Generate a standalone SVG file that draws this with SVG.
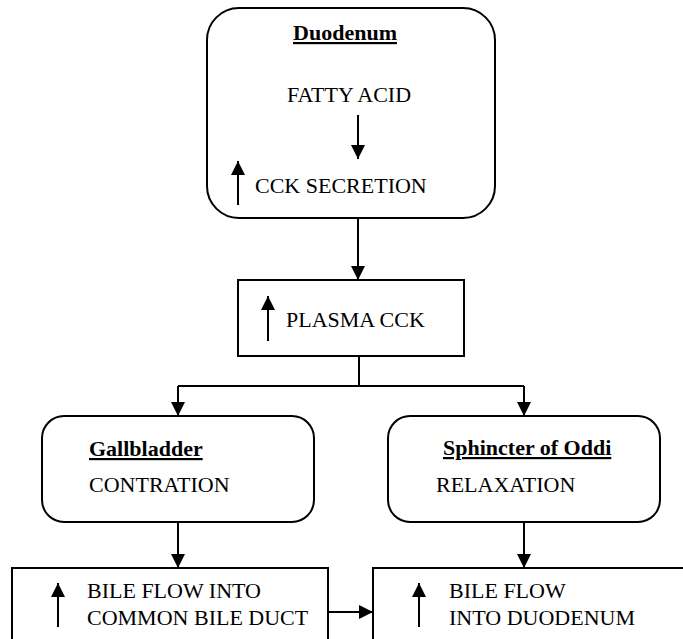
<svg xmlns="http://www.w3.org/2000/svg" width="683" height="639" viewBox="0 0 683 639">
<defs>
<marker id="ah" markerWidth="14" markerHeight="15" refX="14" refY="7" orient="auto" markerUnits="userSpaceOnUse" viewBox="0 0 14 14">
<path d="M0,0 L14,7 L0,14 Z" fill="#000"/>
</marker>
</defs>
<style>
.box{fill:#fff;stroke:#000;stroke-width:2}
.b{font-weight:bold;text-decoration:underline}
.ln{fill:none;stroke:#000;stroke-width:2}
.ar{fill:none;stroke:#000;stroke-width:2;marker-end:url(#ah)}
</style>
<rect width="683" height="639" fill="#fff"/>
<g id="connectors">
<line class="ar" x1="358" y1="218" x2="358" y2="280"/>
<polyline class="ln" points="359,356 359,386 178,386"/>
<line class="ln" x1="359" y1="386" x2="524" y2="386"/>
<line class="ar" x1="178" y1="386" x2="178" y2="416"/>
<line class="ar" x1="524" y1="386" x2="524" y2="416"/>
<line class="ar" x1="178" y1="522" x2="178" y2="568"/>
<line class="ar" x1="524" y1="522" x2="524" y2="568"/>
<line class="ar" x1="328" y1="612" x2="373" y2="612"/>
</g>
<g font-family="Liberation Serif, Times New Roman, DejaVu Serif, serif" font-size="22" fill="#000">
<g id="duodenum">
<rect class="box" x="207" y="8" width="288" height="210" rx="32"/>
<text class="b" x="345" y="40" text-anchor="middle">Duodenum</text>
<text x="349" y="102" text-anchor="middle">FATTY ACID</text>
<line class="ar" x1="358" y1="115" x2="358" y2="159"/>
<line class="ar" x1="238" y1="205" x2="238" y2="161"/>
<text x="255" y="193">CCK SECRETION</text>
</g>
<g id="plasma">
<rect class="box" x="238" y="280" width="226" height="76"/>
<line class="ar" x1="268" y1="341" x2="268" y2="296"/>
<text x="286" y="327">PLASMA CCK</text>
</g>
<g id="gallbladder">
<rect class="box" x="42" y="416" width="272" height="106" rx="22"/>
<text class="b" x="89" y="456">Gallbladder</text>
<text x="89" y="492">CONTRATION</text>
</g>
<g id="sphincter">
<rect class="box" x="388" y="416" width="272" height="106" rx="22"/>
<text class="b" x="443" y="455">Sphincter of Oddi</text>
<text x="436" y="492">RELAXATION</text>
</g>
<g id="bile-common">
<rect class="box" x="12" y="568" width="316" height="90"/>
<line class="ar" x1="58" y1="627" x2="58" y2="583"/>
<text x="87" y="598">BILE FLOW INTO</text>
<text x="87" y="625">COMMON BILE DUCT</text>
</g>
<g id="bile-duodenum">
<rect class="box" x="373" y="568" width="330" height="90"/>
<line class="ar" x1="419" y1="627" x2="419" y2="583"/>
<text x="449" y="598">BILE FLOW</text>
<text x="449" y="625">INTO DUODENUM</text>
</g>
</g>
</svg>
